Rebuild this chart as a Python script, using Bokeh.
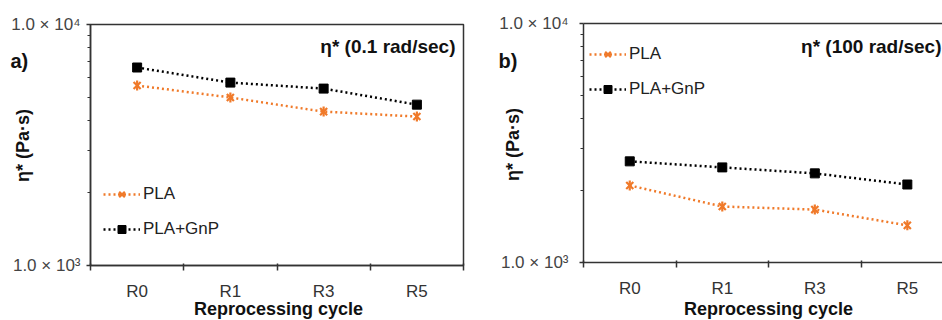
import math
from bokeh.plotting import figure
from bokeh.models import (FixedTicker, Label, Legend, LegendItem, LinearAxis,
                          Range1d, GridBox)
from bokeh.embed import file_html
from bokeh.resources import INLINE

categories = ["R0", "R1", "R3", "R5"]
pla_low = [5580, 4980, 4350, 4150]      # eta* at 0.1 rad/s
gnp_low = [6630, 5740, 5420, 4650]
pla_high = [2100, 1715, 1665, 1430]     # eta* at 100 rad/s
gnp_high = [2650, 2500, 2360, 2120]
y_major = [1000, 10000]
y_major_labels = ["1.0 × 10³", "1.0 × 10⁴"]
y_minor = [2000, 3000, 4000, 5000, 6000, 7000, 8000, 9000]

FONT = "Liberation Sans"
ORANGE = "#F07A2A"
AXIS = "#333333"


def panel(pla, gnp, bl, br, bt, bb, x_end, legend_loc, y_standoff,
          outline=True):
    xs = [i + 0.5 for i in range(len(categories))]
    p = figure(width=471, height=320, x_range=Range1d(0, x_end),
               y_range=Range1d(1000, 10000), y_axis_type="log",
               output_backend="svg", toolbar_location=None,
               min_border_left=bl, min_border_right=br,
               min_border_top=bt, min_border_bottom=bb)
    p.frame_align = False
    p.grid.visible = False
    p.background_fill_color = "white"

    ax = p.below[0]
    ax.ticker = FixedTicker(ticks=xs, minor_ticks=list(range(len(categories) + 1)))
    ax.major_label_overrides = {x: c for x, c in zip(xs, categories)}
    ax.major_tick_out = 0
    ax.major_tick_in = 0
    ax.minor_tick_out = 5
    ax.minor_tick_in = 2
    ax.minor_tick_line_color = AXIS
    ax.minor_tick_line_width = 1.5
    ax.axis_line_color = AXIS
    ax.axis_line_width = 1.5
    ax.major_label_text_font = FONT
    ax.major_label_text_font_size = "17px"
    ax.major_label_text_color = "#333333"
    ax.major_label_standoff = 11

    ay = p.left[0]
    ay.ticker = FixedTicker(ticks=y_major, minor_ticks=y_minor)
    ay.major_label_overrides = dict(zip(y_major, y_major_labels))
    ay.major_tick_out = 4
    ay.major_tick_in = 0
    ay.minor_tick_out = 3
    ay.minor_tick_in = 0
    ay.major_tick_line_color = AXIS
    ay.minor_tick_line_color = AXIS
    ay.major_tick_line_width = 1.5
    ay.minor_tick_line_width = 1.2
    ay.axis_line_color = AXIS
    ay.axis_line_width = 1.5
    ay.major_label_text_font = FONT
    ay.major_label_text_font_size = "17px"
    ay.major_label_text_color = "#444444"
    ay.major_label_standoff = y_standoff

    if outline:
        p.outline_line_color = AXIS
        p.outline_line_width = 1.5
        p.outline_line_alpha = 1
    else:
        p.outline_line_color = None
        top = LinearAxis(ticker=FixedTicker(ticks=[]),
                         major_label_text_font_size="0px",
                         major_tick_out=0, major_tick_in=0,
                         minor_tick_out=0, minor_tick_in=0,
                         axis_line_color=AXIS, axis_line_width=1.5)
        p.add_layout(top, "above")

    l1 = p.line(xs, pla, line_color=ORANGE, line_width=2.5, line_dash="2 3")
    s1 = p.scatter(xs, pla, marker="x", size=10, line_color=ORANGE,
                   line_width=2.2)
    s1b = p.scatter(xs, pla, marker="dash", angle=math.pi / 2, size=10,
                    line_color=ORANGE, line_width=2.2)
    l2 = p.line(xs, gnp, line_color="black", line_width=2.5, line_dash="2 3")
    s2 = p.scatter(xs, gnp, marker="square", size=9, fill_color="black",
                   line_color="black")

    legend = Legend(items=[LegendItem(label="PLA", renderers=[l1, s1, s1b]),
                           LegendItem(label="PLA+GnP", renderers=[l2, s2])],
                    location=legend_loc, orientation="vertical",
                    background_fill_alpha=0, border_line_color=None,
                    padding=0, margin=0, spacing=15, glyph_width=37,
                    glyph_height=20, label_standoff=3,
                    label_text_font=FONT, label_text_font_size="17px",
                    label_text_color="#222222")
    p.add_layout(legend, "center")
    return p


pa = panel(pla_low, gnp_low, bl=90, br=8, bt=24, bb=55, x_end=4.0,
           legend_loc=(13, 26), y_standoff=6)
pb = panel(pla_high, gnp_high, bl=112, br=0, bt=23, bb=58, x_end=3.88,
           legend_loc=(6, 163), y_standoff=11, outline=False)

# transparent overlay carrying the panel captions and axis titles
ov = figure(width=942, height=320, x_range=Range1d(0, 942),
            y_range=Range1d(320, 0), output_backend="svg",
            toolbar_location=None, min_border=0,
            x_axis_location=None, y_axis_location=None)
ov.frame_align = False
ov.grid.visible = False
ov.outline_line_color = None
ov.background_fill_alpha = 0
ov.border_fill_alpha = 0


def txt(x, y, text, size, align="left", angle=0):
    ov.add_layout(Label(x=x, y=y, text=text, text_font=FONT,
                        text_font_style="bold", text_font_size=size,
                        text_align=align, text_baseline="middle",
                        angle=angle, text_color="#111111"))


txt(10, 60, "a)", "20px")
txt(498, 60, "b)", "20px")
txt(22, 145, "η* (Pa·s)", "18px", align="center", angle=math.pi / 2)
txt(512, 144, "η* (Pa·s)", "18px", align="center", angle=math.pi / 2)
txt(455, 46, "η* (0.1 rad/sec)", "19px", align="right")
txt(941, 46, "η* (100 rad/sec)", "19px", align="right")
txt(278, 308, "Reprocessing cycle", "18px", align="center")
txt(768, 308, "Reprocessing cycle", "18px", align="center")

layout = GridBox(children=[(pa, 0, 0), (pb, 0, 1), (ov, 0, 0, 1, 2)])
open("out.html", "w").write(file_html(layout, INLINE))
